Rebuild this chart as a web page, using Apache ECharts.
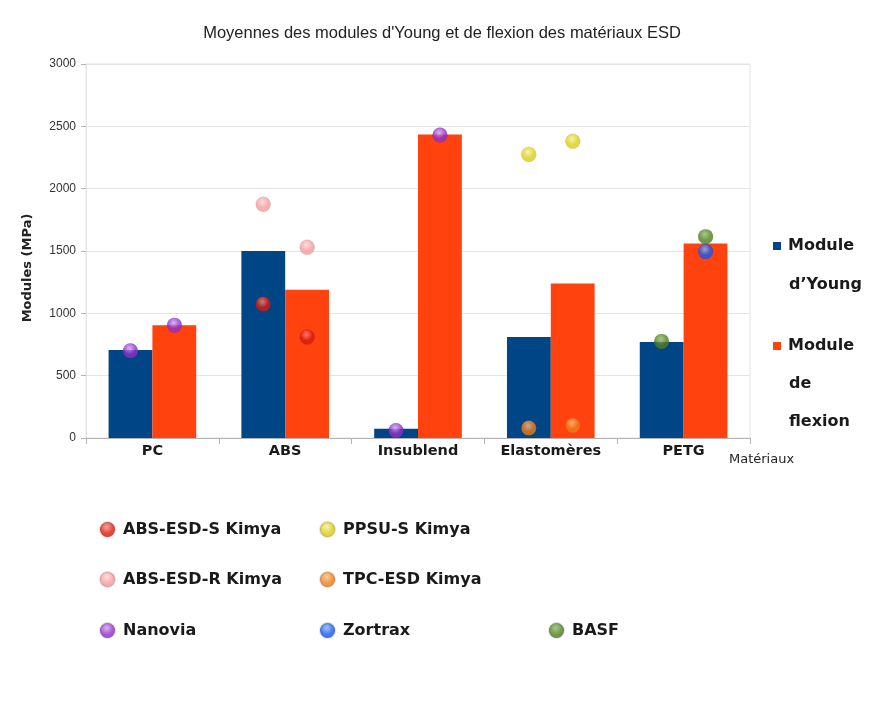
<!DOCTYPE html>
<html>
<head>
<meta charset="utf-8">
<script src="https://cdn.jsdelivr.net/npm/echarts@6/dist/echarts.min.js"></script>
<style>html,body{margin:0;padding:0;background:#fff}#c{width:884px;height:712px}</style>
</head>
<body>
<div id="c"></div>
<script>
const categories = ['PC', 'ABS', 'Insublend', 'Elastomères', 'PETG'];
const youngValues = [705, 1500, 75, 810, 770];
const flexionValues = [905, 1190, 2435, 1240, 1560];
const yTicks = [0, 500, 1000, 1500, 2000, 2500, 3000];

const absEsdSYoung = [null, 1075, null, null, null];
const absEsdSFlex = [null, 810, null, null, null];
const absEsdRYoung = [null, 1875, null, null, null];
const absEsdRFlex = [null, 1530, null, null, null];
const nanoviaYoung = [700, null, 60, null, null];
const nanoviaFlex = [905, null, 2430, null, null];
const ppsuYoung = [null, null, null, 2275, null];
const ppsuFlex = [null, null, null, 2380, null];
const tpcYoung = [null, null, null, 80, null];
const tpcFlex = [null, null, null, 100, null];
const zortraxYoung = [null, null, null, null, null];
const zortraxFlex = [null, null, null, null, 1495];
const basfYoung = [null, null, null, null, 775];
const basfFlex = [null, null, null, null, 1615];

const suppliers = [
  {name: 'ABS-ESD-S Kimya', color: '#d91a10', light: '#ff8a7a', young: absEsdSYoung, flex: absEsdSFlex},
  {name: 'ABS-ESD-R Kimya', color: '#f59a9a', light: '#ffd4d4', young: absEsdRYoung, flex: absEsdRFlex},
  {name: 'Nanovia', color: '#8e2fc8', light: '#d3a0f5', young: nanoviaYoung, flex: nanoviaFlex},
  {name: 'PPSU-S Kimya', color: '#d9cc1a', light: '#f7f08a', young: ppsuYoung, flex: ppsuFlex},
  {name: 'TPC-ESD Kimya', color: '#ee7a18', light: '#ffc080', young: tpcYoung, flex: tpcFlex},
  {name: 'Zortrax', color: '#1a55f0', light: '#80b8ff', young: zortraxYoung, flex: zortraxFlex},
  {name: 'BASF', color: '#4f7d25', light: '#8fbf60', young: basfYoung, flex: basfFlex}
];

function ball(s) {
  return {
    type: 'radial', x: 0.45, y: 0.35, r: 0.7,
    colorStops: [{offset: 0, color: s.light}, {offset: 0.55, color: s.color}, {offset: 1, color: s.color}]
  };
}

const series = [
  {name: "Module d'Young", type: 'bar', data: youngValues, itemStyle: {color: '#004586'}, barGap: '0%', barCategoryGap: '34%', z: 2},
  {name: 'Module de flexion', type: 'bar', data: flexionValues, itemStyle: {color: '#ff420e'}, z: 2}
];
suppliers.forEach(s => {
  series.push({name: s.name, type: 'scatter', data: s.young, symbolSize: 15, symbolOffset: [-22, 0],
    itemStyle: {color: ball(s), borderColor: 'rgba(0,0,0,0.15)', borderWidth: 0.5}, z: 5});
  series.push({name: s.name, type: 'scatter', data: s.flex, symbolSize: 15, symbolOffset: [22, 0],
    itemStyle: {color: ball(s), borderColor: 'rgba(0,0,0,0.15)', borderWidth: 0.5}, z: 5});
});

const legendFont = {fontFamily: 'DejaVu Sans', fontSize: 16, fontWeight: 'bold', color: '#1a1a1a', padding: [0, 0, 0, 3]};
const legendPos = [
  ['ABS-ESD-S Kimya', 94, 516], ['ABS-ESD-R Kimya', 94, 566], ['Nanovia', 94, 617],
  ['PPSU-S Kimya', 314, 516], ['TPC-ESD Kimya', 314, 566], ['Zortrax', 314, 617],
  ['BASF', 543, 617]
];
const legends = legendPos.map(p => ({
  data: [p[0]], left: p[1], top: p[2], icon: 'circle', itemWidth: 15, itemHeight: 15,
  textStyle: legendFont, selectedMode: false
}));
const rightFont = {fontFamily: 'DejaVu Sans', fontSize: 16, fontWeight: 'bold', color: '#1a1a1a', padding: [0, 0, 0, 2]};
legends.push({
  data: ["Module d'Young"], left: 768, top: 233, icon: 'rect', itemWidth: 8, itemHeight: 8, selectedMode: false,
  formatter: n => n.split(' ')[0], textStyle: rightFont
});
legends.push({
  data: ['Module de flexion'], left: 768, top: 333, icon: 'rect', itemWidth: 8, itemHeight: 8, selectedMode: false,
  formatter: n => n.split(' ')[0], textStyle: rightFont
});

const contLines = [["d’Young", 283], ['de', 382], ['flexion', 420]];
const graphics = contLines.map(l => ({
  type: 'text', left: 789, top: l[1] - 6,
  style: {text: l[0], fontFamily: 'DejaVu Sans', fontSize: 16, fontWeight: 'bold', fill: '#1a1a1a'}
}));

const chart = echarts.init(document.getElementById('c'), null, {renderer: 'canvas'});
chart.setOption({
  animation: false,
  backgroundColor: '#fff',
  title: {
    text: "Moyennes des modules d'Young et de flexion des matériaux ESD",
    left: 'center', top: 20,
    textStyle: {fontFamily: '"Liberation Sans", Arial, sans-serif', fontSize: 16.5, fontWeight: 'normal', color: '#222'}
  },
  legend: legends,
  graphic: graphics,
  grid: {left: 86, right: 134, top: 64, bottom: 274, show: true, borderColor: '#e4e4e4', borderWidth: 1},
  xAxis: {
    type: 'category', data: categories,
    name: 'Matériaux', nameLocation: 'end', nameGap: -21,
    nameTextStyle: {fontFamily: 'DejaVu Sans', fontSize: 13, color: '#222', align: 'left', verticalAlign: 'top', padding: [15, 0, 0, 0]},
    axisLine: {lineStyle: {color: '#b3b3b3'}},
    axisTick: {show: true, alignWithLabel: false, length: 6, lineStyle: {color: '#b3b3b3'}},
    axisLabel: {fontFamily: 'DejaVu Sans', fontSize: 14.5, fontWeight: 'bold', color: '#1a1a1a', margin: 6}
  },
  yAxis: {
    type: 'value', min: yTicks[0], max: yTicks[yTicks.length - 1], interval: 500,
    name: 'Modules (MPa)', nameLocation: 'middle', nameGap: 52, nameRotate: 90,
    nameTextStyle: {fontFamily: 'DejaVu Sans', fontSize: 13, fontWeight: 'bold', color: '#222', padding: [0, 34, 0, 0]},
    axisLine: {show: true, lineStyle: {color: '#e4e4e4'}},
    axisTick: {show: true, length: 5, lineStyle: {color: '#b3b3b3'}},
    axisLabel: {fontFamily: '"Liberation Sans", Arial, sans-serif', fontSize: 12, color: '#333', margin: 10, formatter: v => String(v)},
    splitLine: {lineStyle: {color: '#e4e4e4'}}
  },
  series: series
});
</script>
</body>
</html>
